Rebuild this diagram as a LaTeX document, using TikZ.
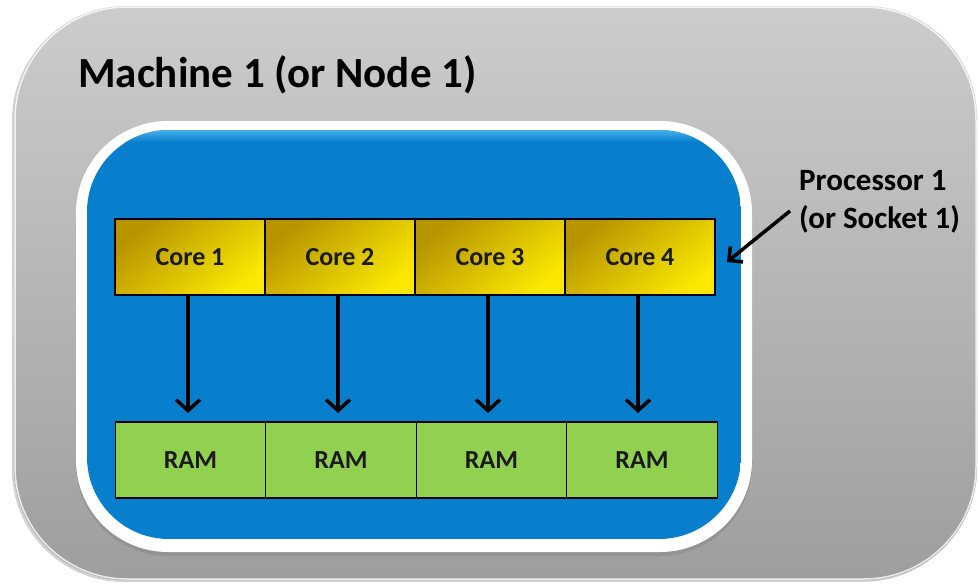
\documentclass[tikz,border=0pt]{standalone}
\usepackage{fontspec}
\setmainfont{Carlito}
\usetikzlibrary{arrows.meta,shadows}

\definecolor{shellTop}{RGB}{204,204,204}
\definecolor{shellBot}{RGB}{158,158,158}
\definecolor{chipBlue}{RGB}{8,127,205}
\definecolor{chipHi}{RGB}{70,175,235}
\definecolor{coreDark}{RGB}{182,148,0}
\definecolor{coreLight}{RGB}{250,232,0}
\definecolor{ramGreen}{RGB}{146,208,80}
\definecolor{inkDark}{RGB}{26,26,26}

\tikzset{
  corebox/.style={draw=black, line width=1.3pt, minimum width=150pt, minimum height=76pt,
    inner sep=0pt, outer sep=0pt, top color=coreDark, bottom color=coreLight, shading angle=40,
    text=inkDark, font=\bfseries\fontsize{26}{30}\selectfont},
  rambox/.style={draw=black, line width=1.3pt, minimum width=150.5pt, minimum height=76pt,
    inner sep=0pt, outer sep=0pt, fill=ramGreen,
    text=inkDark, font=\bfseries\fontsize{26}{30}\selectfont},
  link/.style={line width=3.5pt, -{Straight Barb[length=11pt,width=24pt,line width=3.5pt]}},
}

\begin{document}
\begin{tikzpicture}[x=1pt,y=-1pt]
\useasboundingbox (0,0) rectangle (978,584);
\fill[white] (0,0) rectangle (978,584);

% machine enclosure
\shade[rounded corners=112pt, top color=shellTop, bottom color=shellBot,
  drop shadow={shadow xshift=-2pt, shadow yshift=-2pt, opacity=0.35}]
  (14,6) rectangle (977,580);
\draw[rounded corners=112pt, white, line width=1.5pt, opacity=0.8] (15,7) rectangle (976,579);

% processor socket: white frame and blue die with a light top rim
\fill[white, rounded corners=92pt,
  drop shadow={shadow xshift=0pt, shadow yshift=-4pt, opacity=0.4}]
  (76,121) rectangle (752,552);
\begin{scope}
  \clip[rounded corners=82pt] (87,130) rectangle (741,539);
  \fill[chipBlue] (87,130) rectangle (741,539);
  \shade[top color=chipHi, bottom color=chipBlue] (87,130) rectangle (741,142);
\end{scope}

% title
\node[anchor=base west, font=\bfseries\fontsize{43}{48}\selectfont, inner sep=0pt] (title) at (78,87) {Machine 1 (or Node 1)};

% cores
\node[corebox] (c1) at (190,257) {Core 1};
\node[corebox] (c2) at (340,257) {Core 2};
\node[corebox] (c3) at (490,257) {Core 3};
\node[corebox] (c4) at (640,257) {Core 4};

% memory
\node[rambox] (r1) at (190.5,460) {RAM};
\node[rambox] (r2) at (341,460) {RAM};
\node[rambox] (r3) at (491.5,460) {RAM};
\node[rambox] (r4) at (642,460) {RAM};

% core to memory links
\foreach \i in {1,...,4}
  \draw[link, shorten >=9pt] ([xshift=-2pt]c\i.south) -- ([xshift=-2pt]r\i.north -| c\i.south);

% processor label
\node[anchor=north west, align=left, inner sep=0pt, font=\bfseries\fontsize{31}{38}\selectfont] (proc) at (799,170) {Processor 1\\(or Socket 1)};
\coordinate (ptail) at (790,211);
\draw[line width=3.5pt, -{Straight Barb[length=10pt,width=20pt,line width=3.5pt]}] (ptail) -- ([xshift=12pt,yshift=-5pt]c4.east);
\end{tikzpicture}
\end{document}
